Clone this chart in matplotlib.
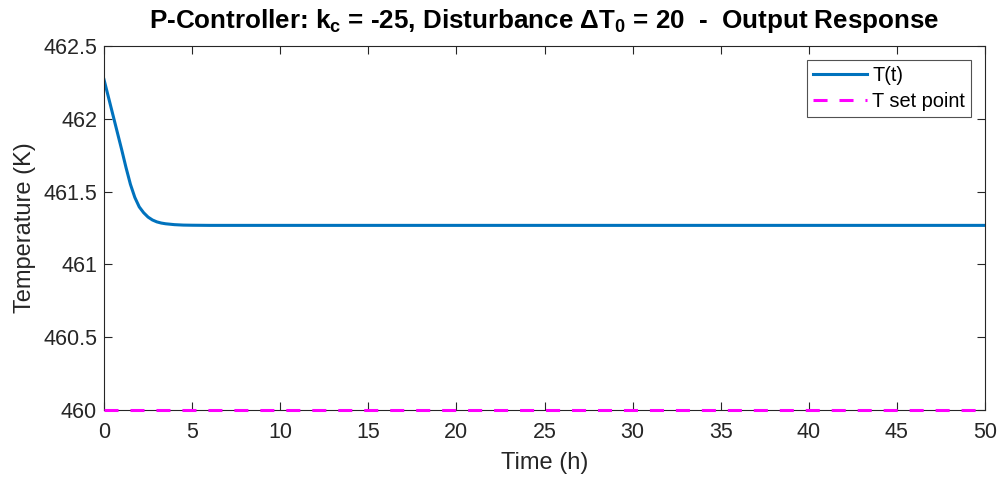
import numpy as np
import matplotlib.pyplot as plt
from matplotlib.ticker import FuncFormatter

# odpowiedz T(t) regulatora P
t = [0.0, 0.25, 0.5, 0.75, 1.0, 1.25, 1.5, 1.75, 2.0, 2.25, 2.5, 2.75,
     3.0, 3.25, 3.5, 4.0, 4.5, 5.0, 6.0, 8.0, 20.0, 50.0]
T = [462.27, 462.15, 462.03, 461.91, 461.79, 461.665, 461.55, 461.46,
     461.395, 461.355, 461.325, 461.305, 461.292, 461.284, 461.279,
     461.273, 461.27, 461.269, 461.268, 461.268, 461.268, 461.268]
t_sp = [0.0, 50.0]
T_sp = [460.0, 460.0]

plt.rcParams['font.family'] = ['Liberation Sans', 'DejaVu Sans']
plt.rcParams['mathtext.fontset'] = 'custom'
plt.rcParams['mathtext.rm'] = 'Liberation Sans'
plt.rcParams['mathtext.bf'] = 'Liberation Sans:bold'

fig = plt.figure(figsize=(10, 4.8), dpi=100)
ax = fig.add_axes([0.104, 0.146, 0.881, 0.758])

ax.plot(t, T, color='#0072BD', lw=2.2, label='T(t)')
ax.plot(t_sp, T_sp, color='#FF00FF', lw=2.2, ls=(0, (4.6, 3.9)), label='T set point',
        clip_on=False, zorder=5)

ax.set_xlim(0, 50)
ax.set_ylim(460, 462.5)
ax.set_xticks(np.arange(0, 51, 5))
ax.set_yticks(np.arange(460, 462.51, 0.5))
ax.yaxis.set_major_formatter(FuncFormatter(lambda v, p: '%g' % v))

ax.tick_params(direction='in', top=True, right=True, length=6, width=0.8,
               colors='#262626', labelsize=15.5, pad=5)
ax.tick_params(axis='x', pad=9)
for s in ax.spines.values():
    s.set_color('#262626')
    s.set_linewidth(0.8)

ax.set_xlabel('Time (h)', fontsize=17, color='#262626', labelpad=6)
ax.set_ylabel('Temperature (K)', fontsize=17, color='#262626', labelpad=5)
ax.set_title(r'P-Controller: $\mathbf{k_c}$ = -25, Disturbance Δ$\mathbf{T_0}$ = 20  -  Output Response',
             fontsize=18.7, fontweight='bold', pad=13)

leg = ax.legend(loc='upper right', fontsize=14.4, frameon=True, fancybox=False,
                borderaxespad=0.7, handlelength=2.7, handletextpad=0.25,
                borderpad=0.3, labelspacing=0.35)
leg.get_frame().set_edgecolor('#262626')
leg.get_frame().set_linewidth(0.8)

fig.savefig('out.png', dpi=100)
